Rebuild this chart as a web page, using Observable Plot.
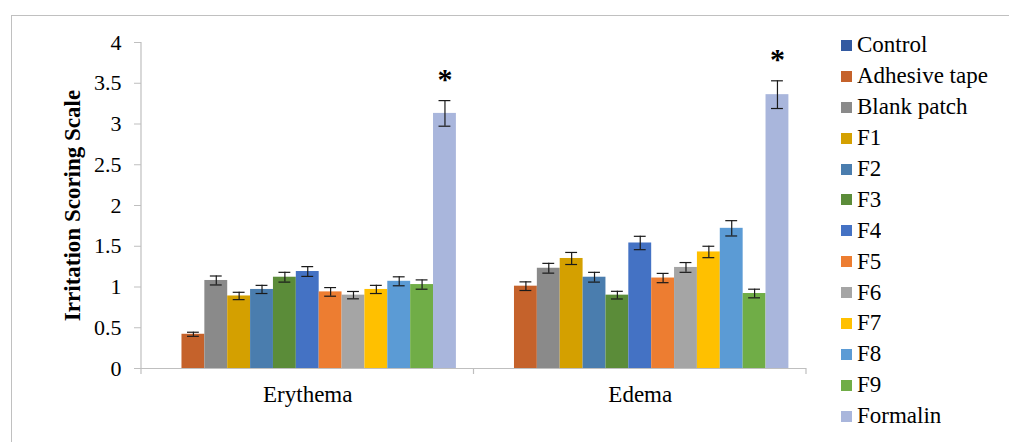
<!DOCTYPE html>
<html>
<head>
<meta charset="utf-8">
<script src="https://cdn.jsdelivr.net/npm/d3@7"></script>
<script src="https://cdn.jsdelivr.net/npm/@observablehq/plot@0.6"></script>
<style>
  body { margin: 0; background: #fff; }
  #wrap { position: relative; width: 1009px; height: 442px; overflow: hidden; font-family: "Liberation Serif", "Times New Roman", serif; }
  #border { position: absolute; left: 11px; top: 15px; width: 1100px; height: 600px; border: 1px solid #c0c0c0; }
  #chart { position: absolute; left: 0; top: 0; }
  #chart svg text { font-family: "Liberation Serif", "Times New Roman", serif !important; font-variant-numeric: normal !important; }
  #legend { position: absolute; left: 841px; top: 30px; }
  #legend, #legend * { font-family: "Liberation Serif", "Times New Roman", serif !important; font-variant-numeric: normal !important; }
  .lg-swatch { height: 30.9px; padding-bottom: 0 !important; font-size: 23px !important; }
  .lg-swatch > svg { margin-right: 5px !important; }
  .lg-swatch-label { color: #000; font-size: 23px !important; }
</style>
</head>
<body>
<div id="wrap">
  <div id="border"></div>
  <div id="chart"></div>
  <div id="legend"></div>
</div>
<script>
const groups = ["Erythema", "Edema"];
const series = ["Control", "Adhesive tape", "Blank patch", "F1", "F2", "F3", "F4", "F5", "F6", "F7", "F8", "F9", "Formalin"];
const colors = ["#335AA1", "#C5622B", "#8A8A8A", "#D4A000", "#4A7DAE", "#5B8C39", "#4472C4", "#ED7D31", "#A5A5A5", "#FFC000", "#5B9BD5", "#70AD47", "#A9B6DC"];
const erythema    = [0, 0.42, 1.08, 0.89, 0.97, 1.12, 1.19, 0.94, 0.90, 0.97, 1.07, 1.03, 3.13];
const erythemaErr = [0, 0.025, 0.055, 0.045, 0.05, 0.06, 0.06, 0.053, 0.045, 0.05, 0.055, 0.057, 0.157];
const edema       = [0, 1.01, 1.23, 1.35, 1.12, 0.90, 1.54, 1.11, 1.24, 1.43, 1.72, 0.92, 3.36];
const edemaErr    = [0, 0.053, 0.06, 0.074, 0.06, 0.047, 0.082, 0.057, 0.06, 0.07, 0.094, 0.053, 0.17];
const significance = ["", "", "", "", "", "", "", "", "", "", "", "", "*"];
const yTicks = [0, 0.5, 1, 1.5, 2, 2.5, 3, 3.5, 4];
const yTitle = "Irritation Scoring Scale";

const values = {Erythema: erythema, Edema: edema};
const errors = {Erythema: erythemaErr, Edema: edemaErr};
const data = groups.flatMap(g => series.map((s, i) => ({group: g, series: s, v: values[g][i], e: errors[g][i], sig: significance[i]})));
const withErr = data.filter(d => d.e > 0);

const font = '"Liberation Serif", "Times New Roman", serif';
const chart = Plot.plot({
  width: 820,
  height: 442,
  marginLeft: 141,
  marginRight: 14,
  marginTop: 42,
  marginBottom: 74,
  style: "font-family: 'Liberation Serif', serif; color: #000; background: transparent;",
  fx: {domain: groups, padding: 0, axis: null, round: false},
  x: {domain: series, paddingInner: 0, paddingOuter: 0.77, axis: null, round: false},
  y: {domain: [0, 4], axis: null},
  color: {domain: series, range: colors},
  marks: [
    Plot.barY(data, {fx: "group", x: "series", y: "v", fill: "series"}),
    Plot.ruleY([0], {stroke: "#bfbfbf", strokeWidth: 1.2}),
    Plot.ruleX(withErr, {fx: "group", x: "series", y1: d => d.v - d.e, y2: d => d.v + d.e, stroke: "#1a1a1a", strokeWidth: 1.2}),
    Plot.tickY(withErr, {fx: "group", x: "series", y: d => d.v + d.e, stroke: "#1a1a1a", strokeWidth: 1.2, insetLeft: 5.5, insetRight: 5.5}),
    Plot.tickY(withErr, {fx: "group", x: "series", y: d => d.v - d.e, stroke: "#1a1a1a", strokeWidth: 1.2, insetLeft: 5.5, insetRight: 5.5}),
    Plot.text(data.filter(d => d.sig), {fx: "group", x: "series", y: d => d.v + d.e, text: "sig", dy: -21, fontSize: 30, fontWeight: "bold", fill: "#000", lineAnchor: "middle", fontFamily: font}),
    Plot.axisY({ticks: yTicks, tickFormat: d => String(d), tickSize: 7, tickPadding: 13, fontSize: 22, stroke: "#bfbfbf", fill: "#000", label: null, fontFamily: font}),
    Plot.axisFx({anchor: "bottom", tickSize: 0, tickPadding: 17, fontSize: 23, fill: "#000", label: null, fontFamily: font}),
    Plot.text([yTitle], {fx: () => groups[0], frameAnchor: "left", textAnchor: "middle", text: d => d, rotate: -90, dx: -69, fontSize: 23, fontWeight: "bold", fill: "#000", fontFamily: font})
  ]
});

// axis line and category tick marks (Excel style), positioned from Plot's own scales
const fx = chart.scale("fx"), y = chart.scale("y");
const y0 = y.apply(0), yTop = y.apply(4);
const g = d3.select(chart).append("g").attr("stroke", "#bfbfbf").attr("stroke-width", 1.2);
const left = fx.apply(groups[0]);
g.append("line").attr("x1", left).attr("x2", left).attr("y1", yTop).attr("y2", y0 + 6);
groups.forEach(gr => {
  const xr = fx.apply(gr) + fx.bandwidth;
  g.append("line").attr("x1", xr).attr("x2", xr).attr("y1", y0).attr("y2", y0 + 6);
});
document.getElementById("chart").append(chart);

const legend = Plot.legend({
  color: {domain: series, range: colors},
  legend: "swatches",
  columns: 1,
  swatchSize: 11,
  className: "lg",
  style: "font-family: 'Liberation Serif', serif; font-size: 23px; color: #000;"
});
document.getElementById("legend").append(legend);
</script>
</body>
</html>
